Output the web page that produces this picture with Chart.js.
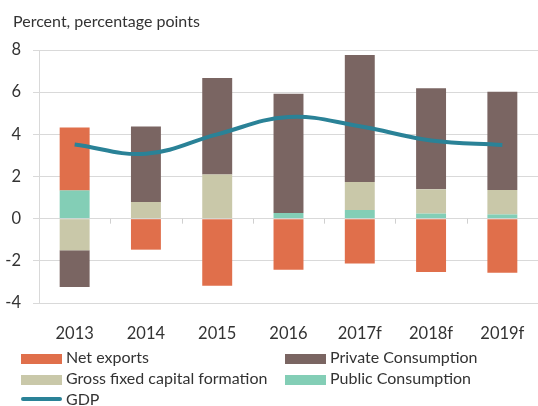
<!DOCTYPE html>
<html>
<head>
<meta charset="utf-8">
<script src="https://cdn.jsdelivr.net/npm/chart.js@4/dist/chart.umd.min.js"></script>
<style>
    html, body { margin: 0; padding: 0; background: #fff; }
    #wrap { position: relative; width: 538px; height: 406px; font-family: Lato, sans-serif; color: #333; }
    #growthChart { position: absolute; left: 0; top: 0; }
    .title { position: absolute; left: 13px; top: 11px; font-size: 16px; }
    .legend-item { position: absolute; font-size: 16px; line-height: 20px; white-space: nowrap; }
    .legend-item .sw { display: inline-block; width: 41px; height: 10px; margin-right: 4px; vertical-align: -1px; }
    .legend-item .ln { display: inline-block; width: 41px; height: 4px; margin-right: 4px; vertical-align: 4px; border-radius: 2px; }
</style>
</head>
<body>
<div id="wrap">
    <canvas id="growthChart" width="538" height="406"></canvas>
    <div class="title">Percent, percentage points</div>
    <div id="legend"></div>
</div>
<script>
const years = ['2013', '2014', '2015', '2016', '2017f', '2018f', '2019f'];
const netExports = [2.99, -1.47, -3.18, -2.42, -2.13, -2.53, -2.56];
const privateConsumption = [-1.74, 3.58, 4.57, 5.66, 6.02, 4.79, 4.66];
const grossFixedCapital = [-1.5, 0.79, 2.1, 0, 1.33, 1.15, 1.16];
const publicConsumption = [1.34, 0, 0, 0.27, 0.41, 0.24, 0.2];
const gdp = [3.52, 3.08, 4.0, 4.82, 4.38, 3.71, 3.49];
const yTicks = [-4, -2, 0, 2, 4, 6, 8];

const colors = {
    net: '#e06f4b',
    priv: '#7a6562',
    gfcf: '#c9c8a9',
    pub: '#83ceb6',
    gdp: '#2a8297'
};

Chart.defaults.font.family = 'Lato, sans-serif';
Chart.defaults.color = '#333';

// small tick marks on the zero line between categories
const zeroTicks = {
    id: 'zeroTicks',
    afterDatasetsDraw(chart) {
        const x = chart.scales.x, y = chart.scales.y, ctx = chart.ctx;
        const y0 = y.getPixelForValue(0);
        ctx.save();
        ctx.strokeStyle = '#d0d0d0';
        ctx.lineWidth = 1;
        for (let i = 1; i < years.length; i++) {
            const px = Math.round((x.getPixelForValue(i - 1) + x.getPixelForValue(i)) / 2) + 0.5;
            ctx.beginPath();
            ctx.moveTo(px, y0);
            ctx.lineTo(px, y0 + 5);
            ctx.stroke();
        }
        ctx.restore();
    }
};

function barSet(label, data, color) {
    return {
        type: 'bar',
        label: label,
        data: data,
        backgroundColor: color,
        borderWidth: 0,
        stack: 'parts',
        categoryPercentage: 1,
        barPercentage: 0.42,
        order: 1
    };
}

const ctx = document.getElementById('growthChart').getContext('2d');
const growthChart = new Chart(ctx, {
    data: {
        labels: years,
        datasets: [
            {
                type: 'line',
                label: 'GDP',
                data: gdp,
                borderColor: colors.gdp,
                borderWidth: 4,
                pointRadius: 0,
                tension: 0.4,
                fill: false,
                stack: 'gdp',
                order: 0
            },
            // stacking order from the zero line outwards
            barSet('Public Consumption', publicConsumption, colors.pub),
            barSet('Gross fixed capital formation', grossFixedCapital, colors.gfcf),
            barSet('Net exports', netExports, colors.net),
            barSet('Private Consumption', privateConsumption, colors.priv)
        ]
    },
    options: {
        responsive: false,
        animation: false,
        layout: { padding: { top: 50, right: 0, bottom: 0, left: 0 } },
        plugins: {
            legend: { display: false },
            tooltip: { enabled: false }
        },
        scales: {
            x: {
                stacked: true,
                grid: { display: false },
                border: { display: false },
                ticks: { padding: 13, font: { size: 16.5 }, color: '#333' },
                afterFit(scale) { scale.height = 103; }
            },
            y: {
                stacked: true,
                min: -4,
                max: 8,
                afterBuildTicks(scale) { scale.ticks = yTicks.map(v => ({ value: v })); },
                grid: { color: '#d9d9d9', lineWidth: 1, tickLength: 6 },
                border: { display: true, color: '#d9d9d9', width: 1 },
                ticks: { padding: 12, font: { size: 16.5 }, color: '#333' },
                afterFit(scale) { scale.width = 39; }
            }
        }
    },
    plugins: [zeroTicks]
});

// legend laid out in two columns
const legendItems = [
    { label: 'Net exports', color: colors.net, left: 21, top: 347 },
    { label: 'Private Consumption', color: colors.priv, left: 285, top: 347 },
    { label: 'Gross fixed capital formation', color: colors.gfcf, left: 21, top: 368 },
    { label: 'Public Consumption', color: colors.pub, left: 285, top: 368 },
    { label: 'GDP', color: colors.gdp, left: 21, top: 389, line: true }
];
const legendEl = document.getElementById('legend');
legendItems.forEach(item => {
    const div = document.createElement('div');
    div.className = 'legend-item';
    div.style.left = item.left + 'px';
    div.style.top = item.top + 'px';
    const sw = document.createElement('span');
    sw.className = item.line ? 'ln' : 'sw';
    sw.style.background = item.color;
    div.appendChild(sw);
    div.appendChild(document.createTextNode(item.label));
    legendEl.appendChild(div);
});
</script>
</body>
</html>
